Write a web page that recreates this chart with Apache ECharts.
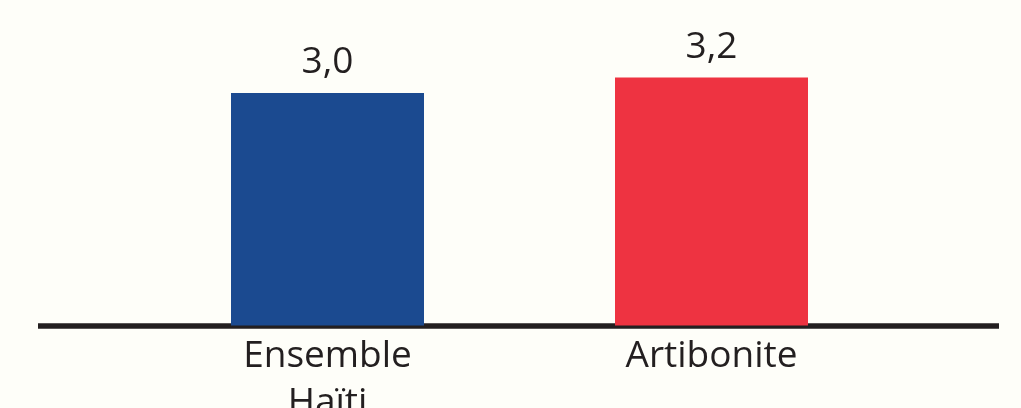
<!DOCTYPE html>
<html>
<head>
<meta charset="utf-8">
<script src="https://cdn.jsdelivr.net/npm/echarts@6/dist/echarts.min.js"></script>
<style>
html,body{margin:0;padding:0;background:#fefef9;}
#c{width:1021px;height:408px;}
</style>
</head>
<body>
<div id="c"></div>
<script>
const categories = ['Ensemble\nHaïti', 'Artibonite'];
const values = [3.0, 3.2];
const barColors = ['#1b4a90', '#ee3341'];

const chart = echarts.init(document.getElementById('c'));
chart.setOption({
  backgroundColor: '#fefef9',
  animation: false,
  grid: [
    {left: 135.5, width: 768, top: 0, height: 325.5, containLabel: false, outerBoundsMode: 'none'},
    {left: 38, right: 22, top: 0, height: 325.5, containLabel: false, outerBoundsMode: 'none'}
  ],
  xAxis: [
    {
      type: 'category', gridIndex: 0, data: categories,
      axisLine: {show: false}, axisTick: {show: false},
      axisLabel: {
        fontFamily: 'Open Sans', fontSize: 37, color: '#231f20',
        lineHeight: 47, margin: 7, interval: 0
      }
    },
    {
      type: 'category', gridIndex: 1, data: [''],
      axisLine: {show: true, lineStyle: {color: '#231f20', width: 5.5, cap: 'butt'}},
      axisTick: {show: false}, axisLabel: {show: false}
    }
  ],
  yAxis: [
    {type: 'value', gridIndex: 0, min: 0, max: 4.2, show: false},
    {type: 'value', gridIndex: 1, min: 0, max: 4.2, show: false}
  ],
  series: [{
    type: 'bar', xAxisIndex: 0, yAxisIndex: 0,
    barWidth: 193,
    data: values.map((v, i) => ({value: v, itemStyle: {color: barColors[i]}})),
    label: {
      show: true, position: 'top', distance: 12,
      fontFamily: 'Open Sans', fontSize: 37, color: '#231f20',
      formatter: p => p.value.toFixed(1).replace('.', ',')
    }
  }]
});
</script>
</body>
</html>
